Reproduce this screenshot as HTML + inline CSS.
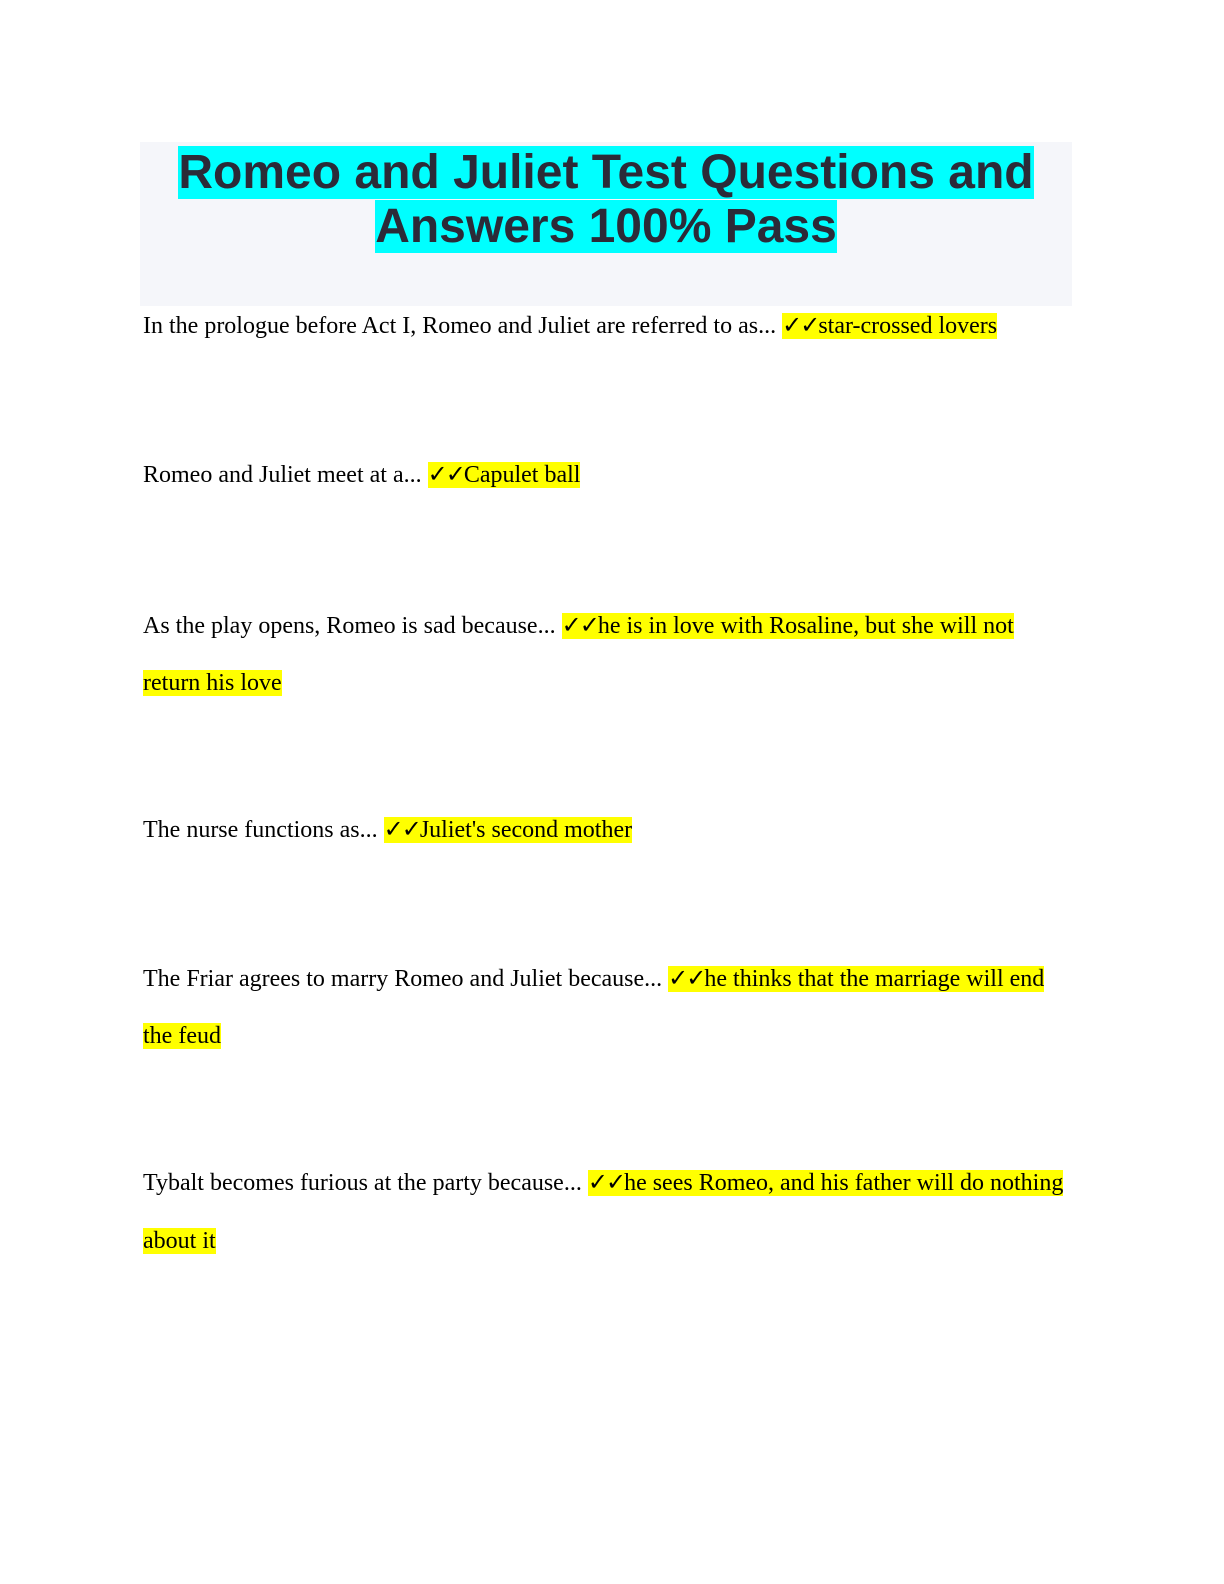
<!DOCTYPE html>
<html><head><meta charset="utf-8"><style>
body{margin:0;width:1224px;height:1584px;background:#fff;position:relative;overflow:hidden}
.hdr{position:absolute;left:140px;top:142px;width:932px;height:164px;background:#f5f6fa}
.t{position:absolute;left:140px;width:932px;text-align:center;font-family:"Liberation Sans",sans-serif;font-weight:bold;font-size:48px;color:#2b2b38;line-height:53px}
.t span{background:#00ffff}
.l{position:absolute;left:143px;font-family:"Liberation Serif",serif;font-size:24px;color:#000;line-height:32px;white-space:nowrap}
.h{background:#ffff00}
.c{font-family:"DejaVu Sans",sans-serif;font-size:24px;font-weight:bold;letter-spacing:-2px}
</style></head><body>
<div class="hdr"></div>
<div class="t" style="top:146px"><span>Romeo and Juliet Test Questions and</span></div>
<div class="t" style="top:200px"><span>Answers 100% Pass</span></div>
<div class="l" style="top:309px">In the prologue before Act I, Romeo and Juliet are referred to as... <span class="h"><span class="c">✓✓</span>star-crossed lovers</span></div>
<div class="l" style="top:458px">Romeo and Juliet meet at a... <span class="h"><span class="c">✓✓</span>Capulet ball</span></div>
<div class="l" style="top:609px">As the play opens, Romeo is sad because... <span class="h"><span class="c">✓✓</span>he is in love with Rosaline, but she will not</span></div>
<div class="l" style="top:667px"><span class="h">return his love</span></div>
<div class="l" style="top:813px">The nurse functions as... <span class="h"><span class="c">✓✓</span>Juliet's second mother</span></div>
<div class="l" style="top:962px">The Friar agrees to marry Romeo and Juliet because... <span class="h"><span class="c">✓✓</span>he thinks that the marriage will end</span></div>
<div class="l" style="top:1020px"><span class="h">the feud</span></div>
<div class="l" style="top:1166px">Tybalt becomes furious at the party because... <span class="h"><span class="c">✓✓</span>he sees Romeo, and his father will do nothing</span></div>
<div class="l" style="top:1225px"><span class="h">about it</span></div>
</body></html>
